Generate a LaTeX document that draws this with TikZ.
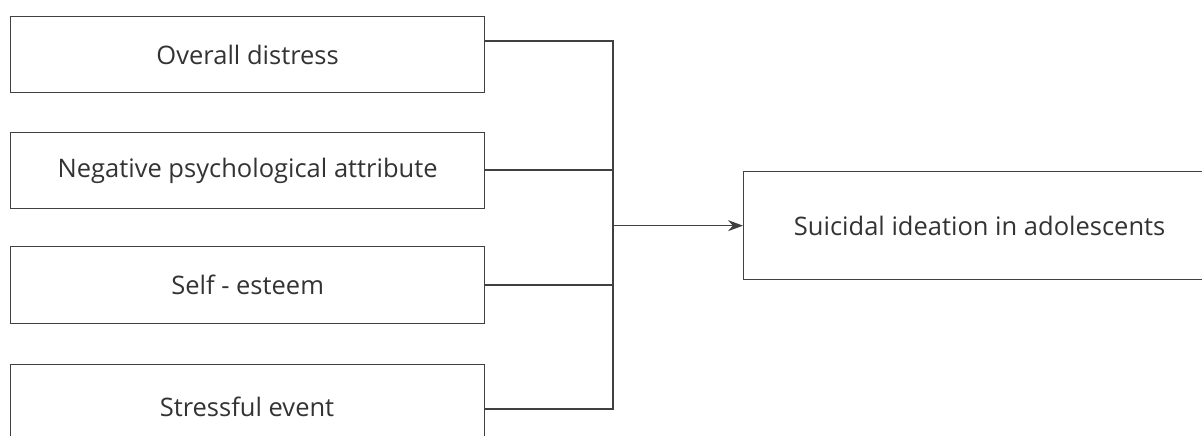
\documentclass[tikz,border=0pt]{standalone}
\usepackage{fontspec}
\setmainfont{Open Sans}
\usetikzlibrary{arrows.meta}
\definecolor{linec}{HTML}{404040}
\definecolor{textc}{HTML}{333333}
\begin{document}
\begin{tikzpicture}[x=1pt,y=-1pt,
  txt/.style={font=\fontsize{25.5}{30}\selectfont,text=textc},
  box/.style={draw=linec,line width=1.3pt,minimum width=474pt,inner sep=0pt,anchor=north west,txt},
  conn/.style={draw=linec,line width=1.3pt}]
\clip (0,0) rectangle (1202,436);
\fill[white] (0,0) rectangle (1202,436);
\node[box,minimum height=76pt] (b1) at (10,16) {Overall distress};
\node[box,minimum height=76pt] (b2) at (10,132) {Negative psychological attribute};
\node[box,minimum height=77pt] (b3) at (10,246) {Self - esteem};
\node[box,minimum height=90pt] (b4) at (10,364) {};
\node[txt] (t4) at (247,407) {Stressful event};
\node[box,minimum width=472pt,minimum height=108pt] (out) at (743,171) {Suicidal ideation in adolescents};
\coordinate (j1) at (613,41);
\coordinate (j2) at (613,170);
\coordinate (j3) at (613,285);
\coordinate (j4) at (613,409);
\draw[conn] (j1 -| b1.east) -- (j1) -- (j4) -- (j4 -| b4.east);
\draw[conn] (j2 -| b2.east) -- (j2);
\draw[conn] (j3 -| b3.east) -- (j3);
\draw[conn,-{Stealth[length=15pt,width=11pt]}] (j1 |- out.west) -- (out.west);
\end{tikzpicture}
\end{document}
